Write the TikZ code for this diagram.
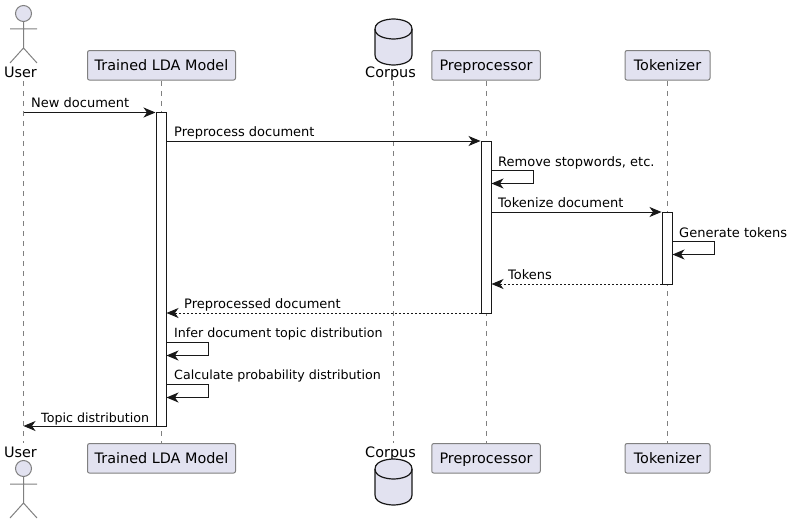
\documentclass[tikz,border=0pt]{standalone}
\usepackage{fontspec}
\setmainfont{DejaVu Sans}
\usetikzlibrary{arrows.meta}

\definecolor{partfill}{HTML}{E2E2F0}
\definecolor{partline}{HTML}{181818}
\definecolor{lifegray}{HTML}{808080}

\tikzset{
    part/.style={draw=lifegray, fill=partfill, rounded corners=2pt, line width=1pt,
        inner sep=0pt, minimum height=29.5pt, text height=11.5pt, text depth=1.5pt,
        font=\fontsize{14.4}{14}\selectfont},
    plainname/.style={inner sep=0pt, anchor=base, font=\fontsize{14.4}{14}\selectfont},
    store/.style={draw=partline, fill=partfill, line width=1.2pt},
    lifeline/.style={draw=lifegray, line width=1pt, dash pattern=on 5pt off 5pt},
    stickman/.style={draw=lifegray, line width=1pt},
    bar/.style={draw=partline, fill=white, line width=1pt, inner sep=0pt, minimum width=10pt},
    msg/.style={draw=partline, line width=1pt, -{Stealth[length=12pt, width=10pt, inset=3.5pt]}},
    reply/.style={msg, dash pattern=on 2pt off 2pt},
    msgtext/.style={anchor=base west, inner sep=0pt, font=\fontsize{13}{13}\selectfont},
    narrowtext/.style={msgtext, font=\fontsize{12.65}{13}\selectfont}
}

\begin{document}
\begin{tikzpicture}[x=1pt, y=-1pt]
    \useasboundingbox (0, 0) rectangle (792, 524);

    % lifelines
    \coordinate (usertop) at (23.5, 81);
    \coordinate (userend) at (23.5, 443);
    \coordinate (modeltop) at (161, 81);
    \coordinate (modelend) at (161, 443);
    \coordinate (corpustop) at (393, 81);
    \coordinate (corpusend) at (393, 443);
    \coordinate (preptop) at (486, 81);
    \coordinate (prepend) at (486, 443);
    \coordinate (toktop) at (667, 81);
    \coordinate (tokend) at (667, 443);
    \draw[lifeline] (usertop) -- (userend);
    \draw[lifeline] (modeltop) -- (modelend);
    \draw[lifeline] (corpustop) -- (corpusend);
    \draw[lifeline] (preptop) -- (prepend);
    \draw[lifeline] (toktop) -- (tokend);

    % actors
    \draw[stickman, fill=partfill] (23.5, 13.5) circle (8);
    \draw[stickman] (23.5, 21.5) -- (23.5, 48) (10, 29) -- (37, 29) (10, 63) -- (23.5, 48) -- (37, 63);
    \node[plainname] (usera) at (20.5, 77.5) {User};
    \node[plainname] (userb) at (20.5, 457) {User};
    \draw[stickman, fill=partfill] (23.5, 468.5) circle (8);
    \draw[stickman] (23.5, 476.5) -- (23.5, 503) (10, 484) -- (37, 484) (10, 518) -- (23.5, 503) -- (37, 518);

    % participants
    \node[part, minimum width=148pt] (modela) at (161.5, 65.3) {Trained LDA Model};
    \node[part, minimum width=148pt] (modelb) at (161.5, 458.3) {Trained LDA Model};
    \node[part, minimum width=108.5pt] (prepa) at (486, 65.3) {Preprocessor};
    \node[part, minimum width=108.5pt] (prepb) at (486, 458.3) {Preprocessor};
    \node[part, minimum width=85pt] (toka) at (667.5, 65.3) {Tokenizer};
    \node[part, minimum width=85pt] (tokb) at (667.5, 458.3) {Tokenizer};

    % database
    \draw[store] (375, 29) .. controls (375, 19) and (393.5, 19) .. (393.5, 19)
        .. controls (393.5, 19) and (412, 19) .. (412, 29) -- (412, 55)
        .. controls (412, 65) and (393.5, 65) .. (393.5, 65)
        .. controls (393.5, 65) and (375, 65) .. (375, 55) -- cycle;
    \draw[store, fill=none] (375, 29) .. controls (375, 39) and (393.5, 39) .. (393.5, 39)
        .. controls (393.5, 39) and (412, 39) .. (412, 29);
    \node[plainname] (corpusla) at (390.5, 77.5) {Corpus};
    \node[plainname] (corpuslb) at (390.5, 457) {Corpus};
    \draw[store] (375, 469) .. controls (375, 459) and (393.5, 459) .. (393.5, 459)
        .. controls (393.5, 459) and (412, 459) .. (412, 469) -- (412, 495)
        .. controls (412, 505) and (393.5, 505) .. (393.5, 505)
        .. controls (393.5, 505) and (375, 505) .. (375, 495) -- cycle;
    \draw[store, fill=none] (375, 469) .. controls (375, 479) and (393.5, 479) .. (393.5, 479)
        .. controls (393.5, 479) and (412, 479) .. (412, 469);

    % activation bars
    \node[bar, minimum height=313.5pt] (modelbar) at (161, 269.25) {};
    \node[bar, minimum height=172pt] (prepbar) at (486, 227) {};
    \node[bar, minimum height=72pt] (tokbar) at (667, 248) {};

    % messages
    \draw[msg] (usertop |- 0, 112.5) -- (modelbar.west |- 0, 112.5);
    \node[msgtext] (m1) at (31, 107.5) {New document};
    \draw[msg] (modelbar.east |- 0, 141) -- (prepbar.west |- 0, 141);
    \node[msgtext] (m2) at (174, 136.5) {Preprocess document};
    \draw[msg] (prepbar.east |- 0, 170.5) -- (533, 170.5) -- (533, 183.5) -- (prepbar.east |- 0, 183.5);
    \node[msgtext] (m3) at (498, 166) {Remove stopwords, etc.};
    \draw[msg] (prepbar.east |- 0, 212) -- (tokbar.west |- 0, 212);
    \node[msgtext] (m4) at (498, 207.5) {Tokenize document};
    \draw[msg] (tokbar.east |- 0, 241.5) -- (714, 241.5) -- (714, 254.5) -- (tokbar.east |- 0, 254.5);
    \node[msgtext] (m5) at (679, 237) {Generate tokens};
    \draw[reply] (tokbar.west |- 0, 284) -- (prepbar.east |- 0, 284);
    \node[msgtext] (m6) at (508, 279.5) {Tokens};
    \draw[reply] (prepbar.west |- 0, 313) -- (modelbar.east |- 0, 313);
    \node[msgtext] (m7) at (184, 308.5) {Preprocessed document};
    \draw[msg] (modelbar.east |- 0, 342.5) -- (208, 342.5) -- (208, 355.5) -- (modelbar.east |- 0, 355.5);
    \node[narrowtext] (m8) at (174, 337.5) {Infer document topic distribution};
    \draw[msg] (modelbar.east |- 0, 384.5) -- (208, 384.5) -- (208, 397.5) -- (modelbar.east |- 0, 397.5);
    \node[narrowtext] (m9) at (174, 379.5) {Calculate probability distribution};
    \draw[msg] (modelbar.west |- 0, 426) -- (usertop |- 0, 426);
    \node[narrowtext] (m10) at (41, 422) {Topic distribution};
\end{tikzpicture}
\end{document}
